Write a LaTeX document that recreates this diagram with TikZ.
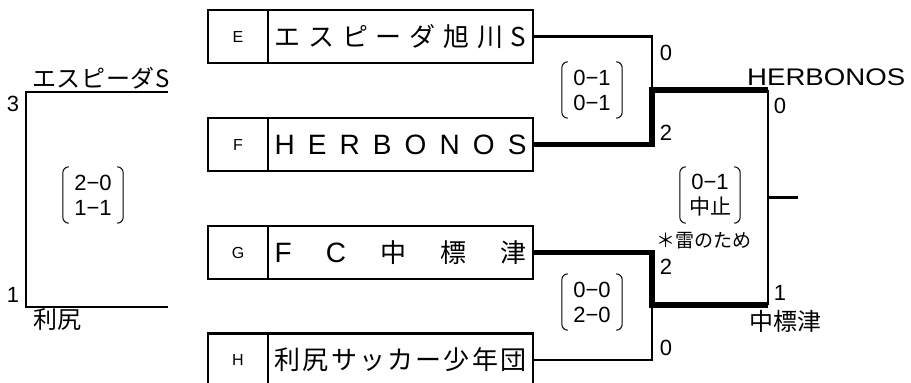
\documentclass[tikz,border=0pt]{standalone}
\usepackage{fontspec}
\setmainfont{Liberation Sans}
\newfontfamily\jpfont{Noto Sans CJK JP}
\usepackage{graphicx}
\usetikzlibrary{positioning}
\tikzset{
	code_box/.style = {
		draw=black,
		line width=2.5pt,
		outer sep=0pt,
		inner sep=0pt,
		minimum width=60pt,
		minimum height=53pt,
		font=\fontsize{16}{18}\selectfont
	},
	name_box/.style = {
		code_box,
		minimum width=265pt,
		font=\fontsize{28}{30}\selectfont
	},
	line_lose/.style = {
		line width=2.5pt
	},
	line_win/.style = {
		line width=5.5pt
	},
	score/.style = {
		inner sep=0pt,
		font=\fontsize{22}{24}\selectfont
	},
	team_label/.style = {
		inner sep=0pt,
		font=\fontsize{24}{28}\selectfont
	},
	paren_node/.style = {
		align=center,
		inner sep=0pt,
		minimum width=60pt,
		minimum height=56pt,
		font=\fontsize{22}{25}\selectfont
	},
	paren/.style = {
		line width=1pt,
		rounded corners=6pt
	},
}
\newcommand{\scoreparen}[1]{%
	\draw[paren] ([xshift=6pt]#1.north west) -- (#1.north west) -- (#1.south west) -- ([xshift=6pt]#1.south west);
	\draw[paren] ([xshift=-6pt]#1.north east) -- (#1.north east) -- (#1.south east) -- ([xshift=-6pt]#1.south east);
}
\begin{document}
\begin{tikzpicture}[x=1pt,y=-1pt]
\useasboundingbox (0,0) rectangle (911,383);
\node [code_box] (cE) at (238,36.5) {E};
\node [name_box, right=0pt of cE] (nE) {\jpfont\fontsize{26}{30}\selectfont\makebox[252pt]{エ\hfill ス\hfill ピ\hfill ー\hfill ダ\hfill 旭\hfill 川\hfill S}};
\node [code_box] (cF) at (238,144.5) {F};
\node [name_box, right=0pt of cF] (nF) {\makebox[252pt]{H\hfill E\hfill R\hfill B\hfill O\hfill N\hfill O\hfill S}};
\node [code_box] (cG) at (238,252.5) {G};
\node [name_box, right=0pt of cG] (nG) {\makebox[252pt]{F\hfill C\hfill {\jpfont\fontsize{26}{30}\selectfont 中\hfill 標\hfill 津}}};
\node [code_box] (cH) at (238,360) {H};
\node [name_box, right=0pt of cH] (nH) {\jpfont\fontsize{26}{30}\selectfont\makebox[252pt]{利\hfill 尻\hfill サ\hfill ッ\hfill カ\hfill ー\hfill 少\hfill 年\hfill 団}};

\coordinate (s1) at (652,90);
\coordinate (s2) at (652,305);
\coordinate (f1) at (768,90);
\coordinate (f2) at (768,305);
\coordinate (fm) at (768,197.5);
\coordinate (champ) at (798,197.5);
\draw [line_lose] (nE.east) -| (s1);
\draw [line_win] (nF.east) -| (s1) -- (f1);
\draw [line_win] (nG.east) -| (s2) -- (f2);
\draw [line_lose] (nH.east) -| (s2);
\draw [line_lose] (f1) -- (f2);
\draw [line_lose] (fm) -- (champ);

\coordinate (t1) at (168,92);
\coordinate (t2) at (26,92);
\coordinate (t3) at (26,307);
\coordinate (t4) at (168,307);
\draw [line_lose] (t1) -- (t2) -- (t3) -- (t4);

\node [score] (scE) at (666,52.5) {0};
\node [score] (scF) at (666,133) {2};
\node [score] (scG) at (666,267) {2};
\node [score] (scH) at (666,348) {0};
\node [score] (scF2) at (780,106) {0};
\node [score] (scG2) at (780,293) {1};
\node [score] (scT1) at (13,104) {3};
\node [score] (scT2) at (13,295) {1};

\node [team_label, anchor=west] (lbF) at (747,77) {\scalebox{1.15}[1]{HERBONOS}};
\node [team_label] (lbG) at (785,321) {\jpfont 中標津};
\node [team_label] (lbT1) at (101,78) {\jpfont\makebox[138pt]{エ\hfill ス\hfill ピ\hfill ー\hfill ダ\hfill S}};
\node [team_label] (lbT2) at (57,319) {\jpfont 利尻};

\node [paren_node] (pEF) at (592,90) {0−1\\0−1};
\node [paren_node] (pGH) at (592,302) {0−0\\2−0};
\node [paren_node] (pFin) at (710,195) {0−1\\{\jpfont\fontsize{21}{24}\selectfont 中止}};
\node [paren_node] (pT) at (93,195) {2−0\\1−1};
\scoreparen{pEF}
\scoreparen{pGH}
\scoreparen{pFin}
\scoreparen{pT}
\node [score, font=\jpfont\fontsize{19}{22}\selectfont] (note) at (704,241) {＊雷のため};
\end{tikzpicture}
\end{document}
